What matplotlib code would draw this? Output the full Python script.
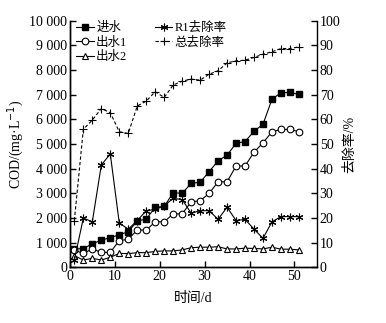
#%%
# Import

import numpy as np
import matplotlib
matplotlib.use("Agg")
import matplotlib.pyplot as plt
from matplotlib.ticker import FuncFormatter

plt.rcParams["font.family"] = ["Liberation Serif", "Noto Sans CJK SC"]
plt.rcParams["axes.unicode_minus"] = False

#%%
# Data (every second day)

days = [1, 3, 5, 7, 9, 11, 13, 15, 17, 19, 21, 23, 25, 27, 29, 31, 33, 35, 37, 39, 41, 43, 45, 47, 49, 51]

# COD in mg/L
cod_in = [750, 760, 960, 1100, 1210, 1320, 1450, 1880, 1960, 2440, 2470, 3030, 3000,
          3410, 3450, 3880, 4320, 4550, 5030, 5100, 5520, 5800, 6820, 7080, 7090, 7010]
cod_out1 = [700, 570, 750, 610, 610, 1090, 1140, 1520, 1510, 1850, 1850, 2170, 2170,
            2660, 2700, 3000, 3470, 3470, 4110, 4110, 4670, 5050, 5500, 5590, 5590, 5500]
cod_out2 = [480, 300, 370, 300, 410, 570, 560, 600, 600, 650, 670, 670, 710,
            800, 820, 820, 840, 750, 750, 780, 770, 750, 820, 740, 740, 710]

# removal in %
rem_r1 = [3, 20, 18.5, 41.5, 46, 18, 15.5, 19, 23, 23.5, 25, 28, 27.5,
          22, 23, 23, 19.5, 24.4, 19, 19.5, 15.5, 11.8, 18.5, 20.6, 20.6, 20.6]
rem_total = [19, 56, 59.7, 64.4, 62.7, 55, 54.3, 65.4, 67.4, 71.2, 68.9, 73.9, 75.5,
             76.3, 75.9, 78.3, 79.7, 82.9, 83.7, 84, 85.1, 86.4, 87.4, 88.7, 88.7, 89.4]

#%%
# Plot

fig, ax = plt.subplots(figsize=(3.86, 3.23), dpi=100)
fig.subplots_adjust(left=0.181, right=0.821, top=0.936, bottom=0.172)
ax2 = ax.twinx()

lw = 0.8
l1, = ax.plot(days, cod_in, color="black", lw=lw, marker="s", markersize=4.5, label="进水")
l2, = ax.plot(days, cod_out1, color="black", lw=lw, marker="o", markersize=4.8,
              markerfacecolor="white", markeredgewidth=0.8, label="出水1")
l3, = ax.plot(days, cod_out2, color="black", lw=lw, marker="^", markersize=5,
              markerfacecolor="white", markeredgewidth=0.8, label="出水2")
l4, = ax2.plot(days, rem_r1, color="black", lw=lw, marker=(6, 2, 0), markersize=5.5,
               markeredgewidth=0.8, label="R1去除率")
l5, = ax2.plot(days, rem_total, color="black", lw=lw, ls=(0, (3, 2)), marker="+",
               markersize=6, markeredgewidth=0.8, label="总去除率")

ax.set_xlim(0, 55)
ax.set_ylim(0, 10000)
ax2.set_ylim(0, 100)
ax.set_xticks([0, 10, 20, 30, 40, 50])
ax.set_yticks(np.arange(0, 10001, 1000))
ax2.set_yticks(np.arange(0, 101, 10))
ax.yaxis.set_major_formatter(FuncFormatter(lambda v, p: f"{int(v):,}".replace(",", " ")))

for a in (ax, ax2):
    a.spines["top"].set_visible(False)
    for s in a.spines.values():
        s.set_linewidth(1.0)
    a.tick_params(direction="in", length=4, width=1.0, labelsize=10, pad=2)
ax.spines["right"].set_visible(False)

ax.set_xlabel("时间/d", fontsize=10, labelpad=6)
ax.set_ylabel("COD/(mg·L$^{-1}$)", fontsize=10, labelpad=2)
ax2.set_ylabel("去除率/%", fontsize=10, labelpad=2)

ax2.legend(handles=[l1, l2, l3, l4, l5], ncol=2, loc="upper left", frameon=False,
           fontsize=9, handlelength=1.4, handletextpad=0.2, columnspacing=2.2,
           labelspacing=0.2, borderaxespad=0.1, bbox_to_anchor=(0.0, 1.02))

fig.savefig("out.png", dpi=100)
